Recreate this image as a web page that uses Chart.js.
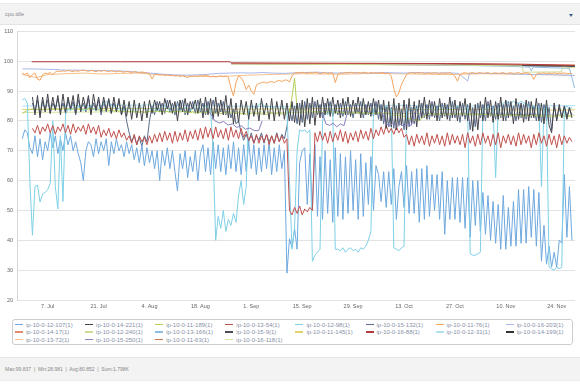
<!DOCTYPE html>
<html><head><meta charset="utf-8">
<script src="https://cdn.jsdelivr.net/npm/chart.js@4/dist/chart.umd.min.js"></script>
<style>
html,body{margin:0;padding:0;background:#fff;width:580px;height:384px;overflow:hidden;font-family:"Liberation Sans",Arial,sans-serif;}
#hdr{position:absolute;left:0;top:3px;width:580px;height:20px;background:#f3f3f3;border-top:1px solid #ebebeb;border-bottom:1px solid #e4e4e4;}
#hdr .t{position:absolute;left:5px;top:7px;font-size:5.5px;color:#888;}
#hdr .c{position:absolute;left:569px;top:10px;width:0;height:0;border-left:2.5px solid transparent;border-right:2.5px solid transparent;border-top:3px solid #3f5f8f;}
#wrap{position:absolute;left:0;top:24px;width:580px;height:292px;}
#legend{position:absolute;left:12px;top:319px;width:561px;height:26px;border:1px solid #cdcdcd;border-radius:3px;box-sizing:border-box;}
.li{position:absolute;height:7px;font-size:6px;line-height:7px;color:#8790a6;white-space:nowrap;}
.li i{display:inline-block;width:8px;height:1.5px;vertical-align:middle;margin-right:3px;position:relative;top:-0.5px;}
#ftr{position:absolute;left:0;top:357px;width:580px;height:22px;background:#f3f3f3;border-top:1px solid #e6e6e6;border-bottom:1px solid #ececec;}
#ftr span{position:absolute;left:5px;top:8px;font-size:5px;color:#888;white-space:nowrap;}
</style></head>
<body>
<div id="hdr"><span class="t">cpu.idle</span><span class="c"></span></div>
<div id="wrap"><canvas id="c" width="580" height="292"></canvas></div>
<div id="legend"></div>
<div id="ftr"><span>Max:99.837 &nbsp;|&nbsp; Min:28.981 &nbsp;|&nbsp; Avg:80.852 &nbsp;|&nbsp; Sum:1.798K</span></div>
<script>
// ---- axis data ----
const tickDays = [0,14,28,42,56,70,84,98,112,126,140];
const tickLabels = ['7. Jul','21. Jul','4. Aug','18. Aug','1. Sep','15. Sep','29. Sep','13. Oct','27. Oct','10. Nov','24. Nov'];
const yTicks = [20,30,40,50,60,70,80,90,100,110];
// sampling grid for dense series (days relative to 7 Jul)
const GRID_START = -7, GRID_STEP = 0.7;

const seriesNames = ['ip-10-0-12-107(1)','ip-10-0-14-221(1)','ip-10-0-11-189(1)','ip-10-0-13-54(1)',
 'ip-10-0-12-98(1)','ip-10-0-15-132(1)','ip-10-0-11-76(1)','ip-10-0-16-203(1)',
 'ip-10-0-14-17(1)','ip-10-0-12-240(1)','ip-10-0-13-166(1)','ip-10-0-15-9(1)',
 'ip-10-0-11-145(1)','ip-10-0-16-88(1)','ip-10-0-12-31(1)','ip-10-0-14-199(1)',
 'ip-10-0-13-72(1)','ip-10-0-15-250(1)','ip-10-0-11-63(1)','ip-10-0-16-118(1)'];

// ---- dense series (on grid) ----
const blueVals = [74,77,76,71,69,
 75,68,74,67,73,70,76,71,75,69,74,70,76,72,75,70,73,69,
 66,60,70,73,
 72,68,74,69,73,70,74,
 65,
 73,69,74,70,72,68,73,69,72,67,71,66,72,
 65,71,66,70,64,70,
 60,
 70,65,71,64,70,63,
 56.5,
 69,64,70,61,68,63,70,60,69,
 72,63,71,62,73,64,72,63,71,62,72,64,73,63,71,62,72,63,73,64,72,62,71,63,72,64,73,62,71,63,72,64,70,
 29,40.5,37.5,44,37,66,70,
 71,52,69,50,72,48,68,47,70,49,67,46,71,48,69,47,68,49,70,50,67,47,69,48,66,52,68,50,65,
 62,53,63,51,63,52,64,47,58,63,51,65,49,63,49,64,46,64,47,65,
 48,62,50,62,47,63,42,60,47,61,47,61,46,61,44,61,41,60,45,60,
 43,56,42,55,40,53,39,52,37,55,37,51,38,53,38,57,39,57,39,58,
 41,57,38,56,33,45,32,38,31,36,31,40,39,62,41,58,40];

const cyanVals = [87,87.5,86,
 60,41.7,
 58,58.5,52.8,
 55.5,56,57,59,
 80,
 58,50.5,75,53,82,
 84,83.5,84.5,84,85,84,83.5,84,84.5,85,84,83.5,84,84.5,86,86.5,86,85.5,85,84.5,
 84,84,83.5,84,84.5,84,83.5,84,85,84.5,84,83.5,84,84.5,84,83.5,84,84.5,85,84,
 83.5,84,84.5,84,83.5,84,84.5,84,83.5,84,84.5,84,83.5,84,85,84.5,84,
 70,40,
 48,44,50,43,47,45,49,46,
 55,60,52,58,
 84,
 84.5,85,84,85.5,86,85,84.5,85,84,84.5,85,84,84.5,84,
 84,60,37,44,70,77,76.5,77,76,77,
 33,35,36,37,
 80,83,82,84,
 84,37,
 37,36.5,37.5,36,37,37.5,36.5,37,36,37.5,37,38,40,43,
 84,84,85,83,84,85,84,84,
 37.5,37,36.5,37.5,38,
 84,83.5,84,84.5,84,85,84,83.5,84,84.5,84,83.5,84,85,84.5,84,83.5,84,84.5,84,85,84,83.5,84,84.5,
 35.5,35,35,35.5,36,
 84,84,85,84,84.5,61,84,85,
 86,86.5,86,86,86.5,86,86,86.5,86,86,85,
 84,85,84,85,58,84,85,
 31,30.5,30,31,30.5,31,
 84,85,84,84.5];

const greenVals = [82.5,83,83.5,83.8,84,83.5,83.8,84.2,83.6,84,
 83.7,84.1,83.9,84.3,83.8,84,84.4,83.9,84.1,83.7,
 84,84.3,83.8,84.1,83.6,84,83.7,84.2,83.8,84,
 83.6,83.9,83.5,83.8,83.4,83.7,83.3,83.6,83.2,83.5,
 83.1,83.4,83,83.3,82.9,83.2,82.8,83.1,82.7,83,
 83.2,83.5,83.1,83.4,83,83.3,82.9,83.2,82.8,83.1,
 83,83.3,82.9,83.2,82.8,83.1,82.7,83,82.6,82.9,
 82.8,83.1,82.7,83,82.6,82.9,82.5,82.8,82.4,82.7,
 82.6,82.9,82.5,82.8,82.4,82.7,82.3,82.6,82.2,82.5,
 82.4,82.7,82.3,82.6,82.2,82.5,82.1,82.4,82.6,82.3,
 82.5,82.2,82.4,82.1,82.3,83,88,94.3,84,83.5,
 83.2,83.5,83.1,83.4,83,83.3,82.9,83.2,82.8,83.1,
 83,83.3,82.9,83.2,82.8,83.1,82.7,83,82.6,82.9,
 82.8,83.1,82.7,83,82.6,82.9,82.5,82.8,82.4,82.7,
 82.6,82.9,82.5,82.8,82.4,82.2,81.8,82,81.6,81.9,
 81.5,81.2,80.8,80.5,80.2,80.6,80,80.8,81.5,82,
 82.3,82.6,82.2,82.5,82.1,82.4,82.2,82.5,82.1,82.4,
 82.3,82.6,82.2,82.5,82.1,82.4,82,82.3,81.9,82.2,
 82.1,82.4,82,82.3,81.9,82.2,81.8,82.1,81.7,82,
 81.9,82.2,81.8,82.1,81.7,82,81.6,81.9,81.5,81.8,
 81.7,82,81.6,81.9,81.5,81.8,81.4,81.7,81.3,81.6,
 81.5,81.8,81.4,81.7,81.3,81.6,81.5];

const darkVals = [null,null,null,null,
 88,82,88.5,81,88,83,89,82.5,88,83.5,88.5,82,89,83,88,84,88.5,82.5,89,83,88,84,88.5,82,89,83.5,88,
 83,88,83.5,87.5,82.5,88,83,87.5,82,87,81.5,
 86.5,80.5,87,81,86,80,86.5,81,87,
 82.5,87,83.5,86.5,82,87.5,84,87,82.5,86.5,80,87,83,87.5,82,86.5,84,87,82.5,87.5,
 81,88,82,87.5,80.5,88,81.5,87,82,88.5,81,87.5,79,86,79.5,87,82,86.5,80.5,87,81.5,86,80,87.5,82,86,80.5,87.5,80,86.5,81.5,87,80.5,
 86,80,86.5,79.5,86,78.5,87,
 78,87.5,79,88,78.5,87,81,88,82,87.5,81.5,88,82.5,87,81,87.5,82,88,81.5,87,82.5,88,81,87.5,82,86.5,81.5,87.5,82,87,
 80,87,77.5,86.5,78,87.5,77,86,78.5,87,77,87.5,79,86.5,78,87,
 81,88,80.5,87,81.5,86.5,80,87.5,81,86,80.5,88,81,87,80,86.5,81.5,87.5,80,
 86,76.5,85.5,77,
 86.5,80,88,81,87,79.5,86.5,80.5,88,80,87,81,86.5,79,87.5,80.5,86,79.5,87,80,86.5,81,87.5,80,86,79,87,78.5,
 76,86,80,85.5,81,85,80.5,84.5,81];

const navyVals = [null,null,null,null,
 86,83,87,82,86.5,83.5,87,82.5,86,84,87.5,83,86,82.5,87,83.5,86.5,82,87,84,86,83,87.5,82.5,86,83.5,87,82,86.5,83,87,82.5,86,83.5,86.5,82,85,80,
 76,73,75,72,74.5,71.5,75,73,80,
 85,82,86.5,83,86,82.5,87,83,86,82,86.5,83.5,87,82,86,83,86.5,82.5,87,83,86,82,86.5,83,87,82.5,86,83,86.5,82,85,81,84,79,80,
 76,73.5,75.5,73,76,72.5,75,73.5,76,72.5,75.5,73,75,72.5,76,73,75.5,74,78,
 84,80,85,79,86,79.5,86.5,80.5,86,81,86.5,82,85.5,81,86,82.5,86.5,81.5,85.5,82,
 86,81.5,86.5,82,85.5,81,86,82.5,86.5,81,85.5,82,86,81.5,86.5,80.5,85.5,79,85,78,
 84.5,77.5,85,78.5,84,77,85.5,78,84.5,79,85,80,86,81,85.5,80.5,86.5,81,85,80,
 86,81.5,85.5,80,86.5,81,85,79.5,86,80.5,85.5,77,84.5,78,86,81,85.5,80,86.5,81.5,
 85,80.5,86,81,85.5,80,86.5,81.5,85,80,86,81,85.5,80.5,86.5,81,85,80,86,79.5,
 85.5,80,84.5,77,85,80.5,84.5,81,85,81.5,84,82];

const redVals = [null,null,null,null,
 77.5,76,78.5,75.5,78,76.5,79,76,78.5,75.5,78,76.5,79,76,78.5,75.5,79,76,78,76.5,78.5,75.5,79,76,78,75.5,78.5,
 74.5,77,75,77.5,74.5,76.5,74,77,74.5,76,73.5,
 75,72.5,75.5,72,75,73,74.5,72,75,72.5,75.5,73,76,
 73,76.5,73.5,76,72.5,76.5,73,76,73.5,77,73,76.5,74,77,73.5,77.5,
 74,78,74.5,77.5,74,78,74.5,77,74,77.5,73.5,78,74.5,77,74,77.5,74.5,76.5,73.5,
 75,72.5,75.5,72.5,75,73,75.5,72,75,72.5,75.5,73,75,72.5,74,
 50,48.5,51,49,51.5,48.5,50.5,49.5,51,50,
 76,73,76.5,73.5,76,72.5,76.5,73,76,73.5,77,73,76.5,72.5,76,73.5,76.5,73,77,74,76.5,73.5,77.5,74,77,75,
 78,75.5,78.5,76,77.5,75.5,78,76,77.5,74.5,
 75.5,72,75,71.5,75.5,72.5,75,72,76,71.5,75,72.5,75.5,72,75,71.5,76,72,75.5,72.5,
 75,72,75.5,71,76,72.5,75,71.5,75.5,72,76,72.5,75,71.5,75.5,72,76,71,75,72.5,
 75.5,72,75,71.5,76,72,75.5,72.5,75,71,75.5,72,76,72.5,75,71.5,75.5,72,75,71,
 75.5,72,75,72.5,74.5,73];

const orangeVals = [96,95.5,96,94.4,95.5,96,94,93.6,95.5,96,95.8,96.2,95.4,
 96.4,96.7,96.5,96.8,96.6,96.9,96.7,96.5,96.8,96.6,96.9,97,96.8,96.6,96.9,96.7,96.5,96.8,96.6,96.9,
 96.7,96.5,96.8,96.6,96.4,96.7,96.5,96.3,96.6,96.4,96.2,96.5,96.3,96.1,96.4,96.2,96,
 95.8,94,95.5,
 95.6,95.3,95.5,95.2,95.4,95.1,95.3,95,95.2,94.9,95.1,94.8,94.5,95,94.8,95.1,94.9,95.2,95,95.3,
 95.1,94.8,95,94.7,94.9,95.1,94.8,95,94.6,
 91,88.3,93,95,94.5,93,90.5,92,90,88.9,
 92,92.5,92.8,93,92.6,93,93.2,92.8,93.3,93.5,93.2,93.6,93.7,
 93,95,96,
 96.2,96,96.3,96.1,95.9,96.2,96,96.3,96.1,95.8,96,96.2,95.9,96.1,96,92.8,95.5,96.1,95.9,96.2,
 96,96.3,96.1,95.9,96.2,96,96.3,96.1,95.9,96.2,96,96.1,95.9,96.2,96,95.8,96,
 95,90.8,88,89.4,92.2,93.9,95.5,
 96,96.2,95.9,96.1,96,96.2,95.8,96,96.1,95.9,96.2,96,95.8,96.1,96,95.9,96.2,95.7,95,93.3,
 95.5,96,96.1,95.9,96,96.2,95.8,96,96.1,95.9,96,96.2,95.8,96,96.1,95.9,96,96.2,95.8,96,
 96.1,95.9,96,96.2,95.8,96,96.1,95.9,95.5,93.9,95.6,96,95.9,96.1,95.8,96,95.9,96.1,95.8,96,
 95.9,96.1,95.8,95.9,95.8];

// ---- sparse series (explicit days) ----
const lavDays = [-7,-4,-1,2,5,8,11,14,17,20,23,26,29,32,35,38,41,44,47,50,53,56,59,62,65,68,71,74,77,80,83,86,89,92,95,98,101,104,107,110,113,115.5,116,119,122,125,128,131,134,137,140,143,144.8];
const lavVals = [97.4,97.4,97.3,97.2,97,97,96.9,96.9,96.8,96.7,96.5,96.2,95.9,95.6,95.4,95.3,95.4,95.6,95.9,96,96.1,96,96.2,96,95.9,96.1,96.2,96.3,96.1,96,96.2,96.1,96,96.2,96.1,96,96.2,96.1,96,96.1,95.9,93.3,95.9,96,95.8,95.9,95.7,95.6,95.5,95.5,95.4,95.3,95.2];
const topRedDays = [-4.4,20,50.2,50.5,80,110,130,145];
const topRedVals = [99.8,99.8,99.8,99.4,99.3,99.2,99,98.6];
const topDarkDays = [50.5,80,110,128,132,145];
const topDarkVals = [99.2,99.1,99,98.8,98.4,98.2];
const topOrangeDays = [50.5,90,120,145];
const topOrangeVals = [99.3,99.2,99,98.7];
const topBrownDays = [50.5,100,130,145];
const topBrownVals = [99.25,99.1,98.8,98.4];
const topBoxDays = [50.5,100,130.5,130.8,141.3,141.6,145];
const topBoxVals = [99,98.8,98.4,96.3,96.4,98,97.8];
const ltBlueDays = [50.5,100,128,132.5,133,133.5,138,143.5,144.3,144.9];
const ltBlueVals = [99.3,99,98.2,98,96.8,98,97.8,97.6,94,91];
const dark3Days = [50.5,145];
const dark3Vals = [99.15,98.5];
const yellowDays = [-7,20,50,80,110,140,145];
const yellowVals = [83.8,84.2,83.9,84.1,83.8,83.6,83.7];
const cyan2Days = [-7,30,60,90,120,145];
const cyan2Vals = [85,85.3,84.8,85.2,85,85.1];
const orange2Days = [-7,-5,-3,0,5,10,15,20,25,30,35,40,45,50,55,60,70,80,90,100,110,120,130,140,145];
const orange2Vals = [95.5,95,94.5,95.5,95.8,96,95.7,95.9,96,95.5,95.2,95,94.8,95,95.3,95.5,95.8,95.6,95.9,95.7,95.5,95.8,95.6,95.4,95.2];
const purpleDays = [44.5,46,47.2,48.4,49.6,50.8,52,53.2,54.4,55.6,56.8,58,59,59.5,
 75.5,76.5,77.5,78.5,79.5,80.5,81.5,82.5,83,
 92,93,94,95,96,97,98,99,100,101];
const purpleVals = [83,80,79.3,79.8,78.6,79,77.8,78.4,77.2,77.6,76.8,76.7,80,null,
 83,79,78.5,79.2,78,79,78.4,83,null,
 83,79,78.4,79.2,78,78.8,78.2,79,78.5,83];
const paleDays = [-7,40,80,120,145];
const paleVals = [82.8,83.2,82.6,82.3,81.9];

function grid(vals){ return vals.map((v,i)=>({x:GRID_START+i*GRID_STEP,y:v})); }
function pts(days,vals){ return days.map((d,k)=>({x:d,y:vals[k]})); }

const specs = [
 ['#6ea8de', grid(blueVals), 5],
 ['#434348', grid(darkVals), 2],
 ['#b4cf5a', grid(greenVals), 6],
 ['#c0504d', grid(redVals), 3],
 ['#7fd0e6', grid(cyanVals), 4],
 ['#5a6b8c', grid(navyVals), 7],
 ['#f4a460', grid(orangeVals), 7],
 ['#a9b8ea', pts(lavDays,lavVals), 8],
 ['#e38b6b', pts(topOrangeDays,topOrangeVals), 9],
 ['#cfdc97', pts(topBoxDays,topBoxVals), 9],
 ['#8ebde3', pts(ltBlueDays,ltBlueVals), 9],
 ['#4d4d55', pts(topDarkDays,topDarkVals), 9],
 ['#e2d36b', pts(yellowDays,yellowVals), 9],
 ['#b33a3a', pts(topRedDays,topRedVals), 0],
 ['#aee3ee', pts(cyan2Days,cyan2Vals), 9],
 ['#333333', pts(dark3Days,dark3Vals), 9],
 ['#f6c18c', pts(orange2Days,orange2Vals), 9],
 ['#8a7fc0', pts(purpleDays,purpleVals), 1],
 ['#c47a4c', pts(topBrownDays,topBrownVals), 9],
 ['#d5e4a0', pts(paleDays,paleVals), 9]
];

const datasets = specs.map((s,k)=>({
 label: seriesNames[k], data: s[1], borderColor: s[0], backgroundColor: s[0],
 borderWidth: 1, pointRadius: 0, tension: 0, fill: false, spanGaps: false,
 borderJoinStyle: 'round', order: s[2]
}));

new Chart(document.getElementById('c'), {
 type: 'line',
 data: { datasets },
 options: {
  responsive: false, animation: false, devicePixelRatio: 1,
  layout: { padding: { top: 6, right: 5, left: 0, bottom: 0 } },
  plugins: { legend: { display: false }, tooltip: { enabled: false } },
  scales: {
   x: { type: 'linear', min: -8.44, max: 145.03,
        grid: { display: false, drawTicks: false }, border: { display: false },
        ticks: { font: { size: 5.5, family: 'Liberation Sans' }, color: '#666', padding: 3, maxRotation: 0, autoSkip: false,
                 callback: v => { const k = tickDays.indexOf(v); return k >= 0 ? tickLabels[k] : ''; } },
        afterBuildTicks: a => { a.ticks = tickDays.map(v => ({ value: v })); },
        afterFit: a => { a.height = 16; } },
   y: { min: 20, max: 110,
        grid: { color: '#e3e3e3', drawTicks: false },
        border: { display: true, color: '#d6d6d6' },
        ticks: { font: { size: 5.5, family: 'Liberation Sans' }, color: '#666', padding: 4 },
        afterBuildTicks: a => { a.ticks = yTicks.map(v => ({ value: v })); },
        afterFit: a => { a.width = 17; } }
  }
 }
});

// HTML legend built from the datasets
const lg = document.getElementById('legend');
datasets.forEach((ds,k)=>{
 const el = document.createElement('div');
 el.className = 'li';
 el.style.left = (2 + (k % 8) * 70.1) + 'px';
 el.style.top = (1.5 + Math.floor(k / 8) * 7.5) + 'px';
 el.innerHTML = '<i style="background:' + ds.borderColor + '"></i>' + ds.label;
 lg.appendChild(el);
});
</script>
</body></html>
